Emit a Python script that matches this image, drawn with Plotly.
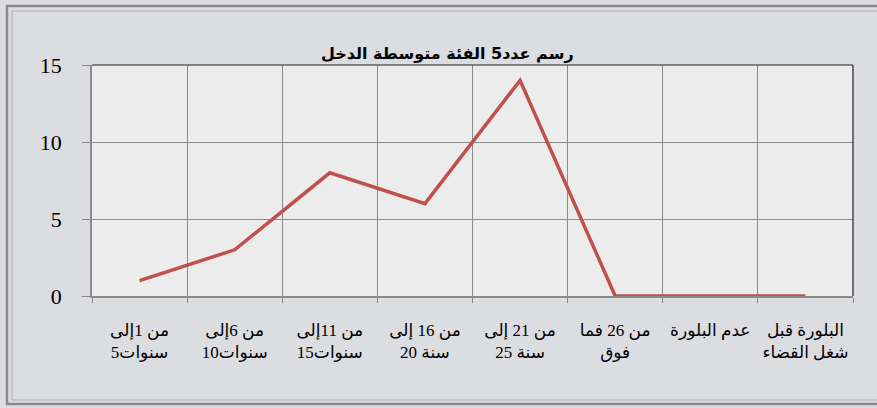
import plotly.graph_objects as go

# Income-class groups (x categories) and counts per group
category_lines = [
    ("من 1إلى", "5سنوات"),
    ("من 6إلى", "10سنوات"),
    ("من 11إلى", "15سنوات"),
    ("من 16 إلى", "20 سنة"),
    ("من 21 إلى", "25 سنة"),
    ("من 26 فما", "فوق"),
    ("عدم البلورة", " "),
    ("البلورة قبل", "شغل القضاء"),
]
counts = [1, 3, 8, 6, 14, 0, 0, 0]
y_ticks = [0, 5, 10, 15]
title_text = "رسم عدد5 الفئة متوسطة الدخل"

categories = ["<br>".join(pair) for pair in category_lines]

W, H = 877, 408
L, R, T, B = 92, 24, 65, 112
pw, ph = W - L - R, H - T - B


def px_x(p):
    return (p - L) / pw


def px_y(p):
    return (H - B - p) / ph


serif = "Liberation Serif, Times New Roman, DejaVu Sans, serif"

fig = go.Figure()
fig.add_trace(go.Scatter(
    x=categories, y=counts, mode="lines",
    line=dict(color="#c0504d", width=3.5),
    hoverinfo="x+y",
))

shapes = [
    # plot-area frame
    dict(type="line", xref="paper", yref="paper", x0=0, x1=1, y0=1, y1=1,
         line=dict(color="#222222", width=1.2)),
    dict(type="line", xref="paper", yref="paper", x0=1, x1=1, y0=0, y1=1,
         line=dict(color="#222222", width=1.2)),
    # outer double border of the chart sheet
    dict(type="rect", xref="paper", yref="paper",
         x0=px_x(7), x1=px_x(900), y0=px_y(404), y1=px_y(6),
         line=dict(color="#8a8a8a", width=2.5)),
    dict(type="rect", xref="paper", yref="paper",
         x0=px_x(12), x1=px_x(900), y0=px_y(400), y1=px_y(11),
         line=dict(color="#b0b0b0", width=1)),
]

fig.add_annotation(
    text="<b>" + title_text + "</b>", xref="paper", yref="paper",
    x=px_x(447), y=px_y(65), xanchor="center", yanchor="bottom",
    showarrow=False, font=dict(family="DejaVu Sans, sans-serif", size=16, color="#000000"),
)

fig.update_layout(
    width=W, height=H,
    margin=dict(l=L, r=R, t=T, b=B),
    paper_bgcolor="#dcdde0",
    plot_bgcolor="#ececec",
    showlegend=False,
    shapes=shapes,
    xaxis=dict(
        type="category",
        range=[-0.5, len(categories) - 0.5],
        tickson="boundaries",
        ticks="outside", ticklen=5, tickcolor="#888888",
        showgrid=True, gridcolor="#8c8c8c", gridwidth=1,
        showline=True, linecolor="#8c8c8c", linewidth=1.5,
        tickfont=dict(family=serif, size=17, color="#000000"),
        ticklabelstandoff=18,
        fixedrange=True,
    ),
    yaxis=dict(
        range=[0, 15],
        tickvals=y_ticks,
        ticks="outside", ticklen=8, tickcolor="#888888",
        showgrid=True, gridcolor="#8c8c8c", gridwidth=1,
        showline=True, linecolor="#8c8c8c", linewidth=1.5,
        zeroline=False,
        tickfont=dict(family=serif, size=22, color="#000000"),
        ticklabelstandoff=16,
        fixedrange=True,
    ),
)

fig.write_html("out.html")
